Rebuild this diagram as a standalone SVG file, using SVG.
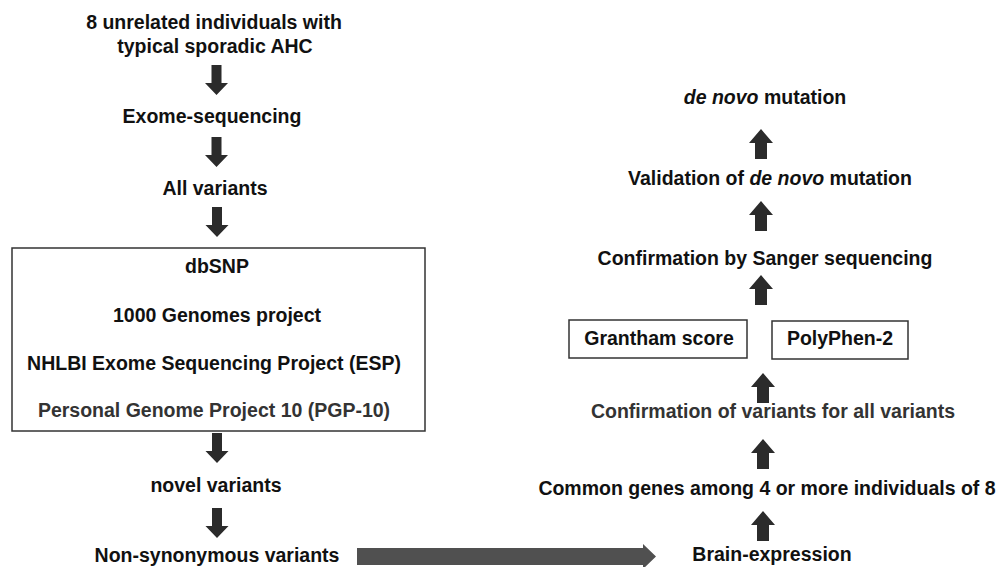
<svg xmlns="http://www.w3.org/2000/svg" xmlns:xlink="http://www.w3.org/1999/xlink" width="1001" height="567" viewBox="0 0 1001 567">
  <style>
    text { font-family: "Liberation Sans", Arial, sans-serif; font-weight: bold; font-size: 19.5px; fill: #111; text-anchor: middle; }
    .faded { fill: #333; }
    .box { fill: none; stroke: #333; stroke-width: 1.5; }
    .arrow { fill: #2b2b2b; }
    .harrow { fill: #505050; }
  </style>
  <defs>
    <!-- block arrow pointing down, 30 tall, origin at top centre -->
    <polygon id="arrow-down" points="-5,0 5,0 5,18 11.5,18 0,30 -11.5,18 -5,18"/>
    <!-- block arrow pointing up, 30 tall, origin at top (tip) -->
    <polygon id="arrow-up" points="0,0 12,14 6,14 6,30 -6,30 -6,14 -12,14"/>
  </defs>
  <rect width="1001" height="567" fill="#fff"/>

  <!-- left column: filtering steps -->
  <g id="start">
    <text x="214" y="29">8 unrelated individuals with</text>
    <text x="215" y="53">typical sporadic AHC</text>
  </g>
  <g id="exome">
    <text x="212" y="123">Exome-sequencing</text>
  </g>
  <g id="all-variants">
    <text x="215" y="195">All variants</text>
  </g>
  <g id="databases">
    <rect class="box" x="12" y="248" width="413" height="183"/>
    <text x="217" y="273">dbSNP</text>
    <text x="217" y="322">1000 Genomes project</text>
    <text x="214" y="370">NHLBI Exome Sequencing Project (ESP)</text>
    <text class="faded" x="214" y="417">Personal Genome Project 10 (PGP-10)</text>
  </g>
  <g id="novel">
    <text x="216" y="492">novel variants</text>
  </g>
  <g id="nonsyn">
    <text x="217" y="562">Non-synonymous variants</text>
  </g>

  <!-- right column: prioritisation steps (read bottom to top) -->
  <g id="brain">
    <text x="772" y="561">Brain-expression</text>
  </g>
  <g id="common">
    <text x="767" y="495">Common genes among 4 or more individuals of 8</text>
  </g>
  <g id="confirm-all">
    <text class="faded" x="773" y="418">Confirmation of variants for all variants</text>
  </g>
  <g id="grantham">
    <rect class="box" x="569" y="320" width="178" height="38"/>
    <text x="659" y="345">Grantham score</text>
  </g>
  <g id="polyphen">
    <rect class="box" x="772" y="321" width="136" height="38"/>
    <text x="840" y="345">PolyPhen-2</text>
  </g>
  <g id="sanger">
    <text x="765" y="265">Confirmation by Sanger sequencing</text>
  </g>
  <g id="validation">
    <text x="770" y="185">Validation of <tspan font-style="italic">de novo</tspan> mutation</text>
  </g>
  <g id="result">
    <text x="765" y="104"><tspan font-style="italic">de novo</tspan> mutation</text>
  </g>

  <g id="connectors">
    <use xlink:href="#arrow-down" class="arrow" x="216.5" y="65"/>
    <use xlink:href="#arrow-down" class="arrow" x="216.5" y="137"/>
    <use xlink:href="#arrow-down" class="arrow" x="217" y="207"/>
    <use xlink:href="#arrow-down" class="arrow" x="217" y="433"/>
    <use xlink:href="#arrow-down" class="arrow" x="217" y="508"/>
    <polygon class="harrow" points="357,548 643,548 643,544 656,556.5 643,569 643,565 357,565"/>
    <use xlink:href="#arrow-up" class="arrow" x="763" y="511"/>
    <use xlink:href="#arrow-up" class="arrow" x="763" y="439"/>
    <use xlink:href="#arrow-up" class="arrow" x="763" y="373"/>
    <use xlink:href="#arrow-up" class="arrow" x="761" y="275"/>
    <use xlink:href="#arrow-up" class="arrow" x="761" y="201"/>
    <use xlink:href="#arrow-up" class="arrow" x="761" y="129"/>
  </g>
</svg>
